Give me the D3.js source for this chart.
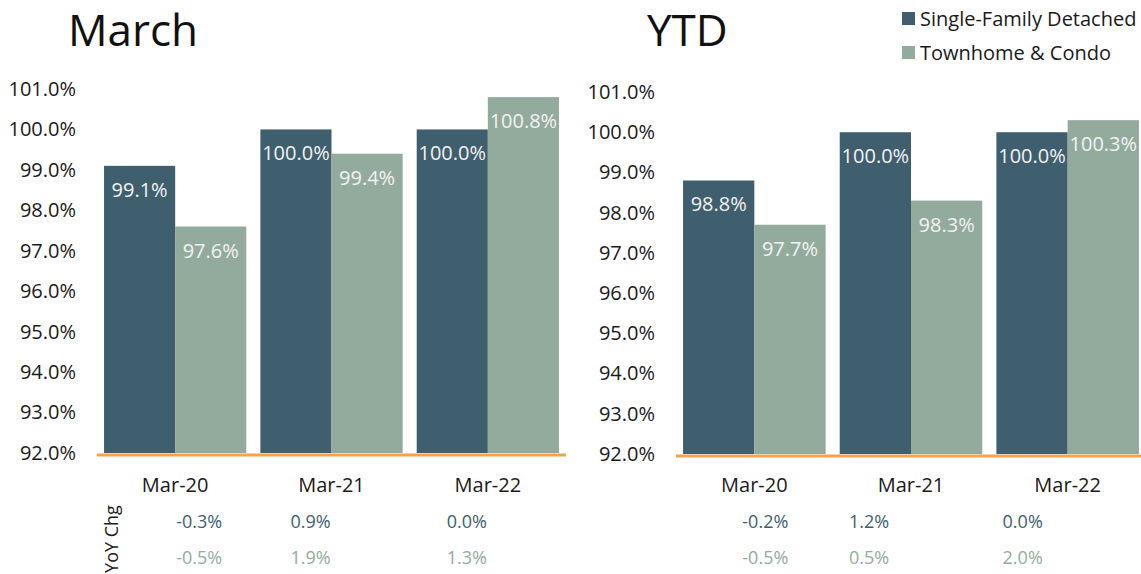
<!DOCTYPE html>
<html><head><meta charset="utf-8">
<script src="https://cdn.jsdelivr.net/npm/d3@7"></script>
<style>
body{margin:0;background:#fff;}
svg{display:block;font-family:"Open Sans",sans-serif;}
</style></head><body>
<svg id="c" width="1141" height="574"></svg>
<script>
const categories = ["Mar-20","Mar-21","Mar-22"];
const seriesNames = ["Single-Family Detached","Townhome & Condo"];
const marchSFD = [99.1, 100.0, 100.0];
const marchTC  = [97.6, 99.4, 100.8];
const ytdSFD   = [98.8, 100.0, 100.0];
const ytdTC    = [97.7, 98.3, 100.3];
const marchYoYSFD = ["-0.3%","0.9%","0.0%"];
const marchYoYTC  = ["-0.5%","1.9%","1.3%"];
const ytdYoYSFD   = ["-0.2%","1.2%","0.0%"];
const ytdYoYTC    = ["-0.5%","0.5%","2.0%"];
const yTicks = [92,93,94,95,96,97,98,99,100,101];

const colors = ["#3f5e6e","#93ab9d"];
const svg = d3.select("#c");

function panel(opt){
  const g = svg.append("g");
  const x = d3.scaleBand().domain(categories).range([opt.x0, opt.x1]).paddingInner(0.09).paddingOuter(0.045);
  const xs = d3.scaleBand().domain([0,1]).range([0, x.bandwidth()]);
  const y = d3.scaleLinear().domain([92,101]).range([opt.yBase, opt.yTop]);

  g.append("text").attr("x", opt.titleX).attr("y", 46).attr("font-size", 44).attr("fill","#111").text(opt.title);

  const ax = g.append("g").attr("transform", `translate(${opt.x0},0)`)
    .call(d3.axisLeft(y).tickValues(yTicks).tickSize(0).tickPadding(opt.tickPad).tickFormat(d => d.toFixed(1) + "%"));
  ax.select(".domain").remove();
  ax.selectAll("text").attr("font-size", 20).attr("fill","#1a1a1a").attr("font-family","Open Sans");

  const data = [opt.a, opt.b];
  data.forEach((arr, si) => {
    const gg = g.append("g");
    gg.selectAll("rect").data(arr).join("rect")
      .attr("x", (d,i) => x(categories[i]) + xs(si))
      .attr("width", xs.bandwidth())
      .attr("y", d => y(d))
      .attr("height", d => y(92) - y(d))
      .attr("fill", colors[si]);
    gg.selectAll("text").data(arr).join("text")
      .attr("x", (d,i) => x(categories[i]) + xs(si) + xs.bandwidth()/2)
      .attr("y", d => y(d) + 31)
      .attr("text-anchor","middle").attr("font-size", 20).attr("fill","#f2f2f2")
      .text(d => d.toFixed(1) + "%");
  });

  g.append("line").attr("x1", opt.x0).attr("x2", opt.x1).attr("y1", y(92)+2).attr("y2", y(92)+2)
    .attr("stroke","#f4a24c").attr("stroke-width",3);

  g.append("g").selectAll("text").data(categories).join("text")
    .attr("x", d => x(d) + x.bandwidth()/2).attr("y", 492)
    .attr("text-anchor","middle").attr("font-size", 20).attr("fill","#1a1a1a").text(d => d);

  [opt.yoyA, opt.yoyB].forEach((arr, si) => {
    g.append("g").selectAll("text").data(arr).join("text")
      .attr("x", (d,i) => x(categories[i]) + x.bandwidth()/2 + opt.yoyDx[i])
      .attr("y", 528 + si*36)
      .attr("text-anchor","middle").attr("font-size", 18).attr("fill", colors[si]).text(d => d);
  });
}

panel({title:"March", titleX:68, x0:97, x1:566, yTop:89, yBase:453, tickPad:21,
  a:marchSFD, b:marchTC, yoyA:marchYoYSFD, yoyB:marchYoYTC, yoyDx:[24,-21,-21]});
panel({title:"YTD", titleX:647, x0:676, x1:1146, yTop:92, yBase:454, tickPad:21,
  a:ytdSFD, b:ytdTC, yoyA:ytdYoYSFD, yoyB:ytdYoYTC, yoyDx:[11,-42,-45]});

svg.append("text").attr("transform","translate(118,539) rotate(-90)")
  .attr("text-anchor","middle").attr("font-size",18).attr("fill","#1a1a1a").text("YoY Chg");

const leg = svg.append("g");
seriesNames.forEach((n,i) => {
  leg.append("rect").attr("x",902).attr("y",12 + i*34).attr("width",13).attr("height",13).attr("fill",colors[i]);
  leg.append("text").attr("x",920).attr("y",26 + i*34).attr("font-size",20).attr("fill","#1a1a1a").text(n);
});
</script>
</body></html>
